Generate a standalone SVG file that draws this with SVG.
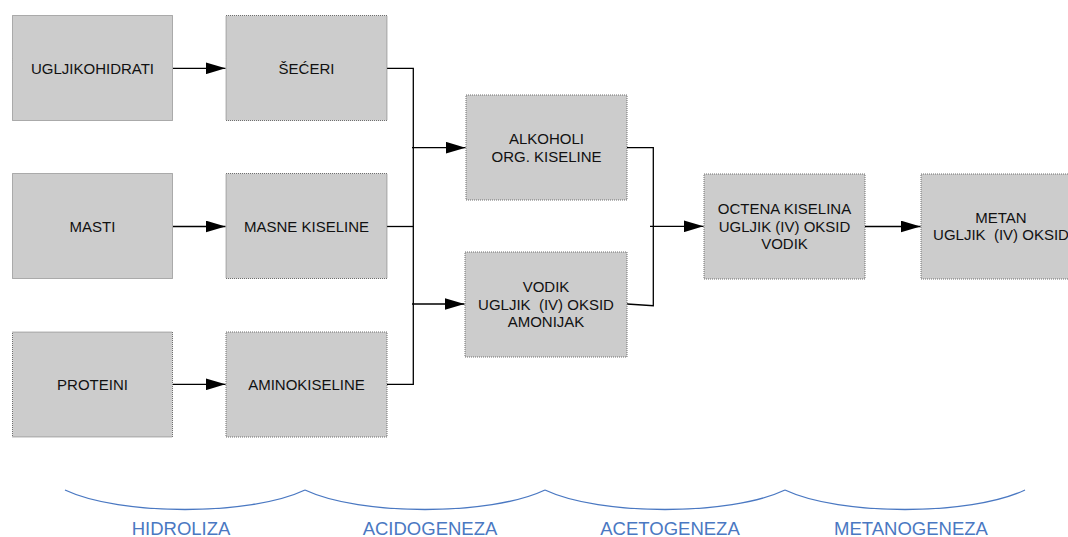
<svg xmlns="http://www.w3.org/2000/svg" width="1068" height="537" viewBox="0 0 1068 537">
<defs>
<marker id="ah" markerUnits="userSpaceOnUse" markerWidth="20" markerHeight="12" refX="20" refY="6" orient="auto">
<path d="M0,0 L20,6 L0,12 z" fill="#000"/>
</marker>
<style>
.box{fill:#cccccc;stroke:#6e6e6e;stroke-width:1;stroke-dasharray:1 1}
.t{font-family:"Liberation Sans",Arial,sans-serif;font-size:15px;fill:#111;text-anchor:middle}
.c{fill:none;stroke:#000;stroke-width:1.3}
.b{fill:none;stroke:#4a78c2;stroke-width:1.3}
.l{font-family:"Liberation Sans",Arial,sans-serif;font-size:18.5px;fill:#4a78c2;text-anchor:middle}
</style>
</defs>
<rect width="1068" height="537" fill="#fff"/>
<g id="connectors">
<path class="c" d="M173,68.3 H225.5" marker-end="url(#ah)"/>
<path class="c" d="M173,226.5 H225.5" marker-end="url(#ah)"/>
<path class="c" d="M173,384.3 H225.5" marker-end="url(#ah)"/>
<path class="c" d="M387,68.3 H413.3 V384.3 H387"/>
<path class="c" d="M387,226.5 H413.3"/>
<path class="c" d="M412,147.7 H465.5" marker-end="url(#ah)"/>
<path class="c" d="M412,304 H464.5" marker-end="url(#ah)"/>
<path class="c" d="M627,147.7 H653.3 V305.7 L627,304"/>
<path class="c" d="M650,226.3 H703.5" marker-end="url(#ah)"/>
<path class="c" d="M865,226.5 H920.5" marker-end="url(#ah)"/>
</g>
<g id="n1"><rect class="box" x="12.5" y="15.5" width="160" height="105"/><text class="t" x="92.5" y="74">UGLJIKOHIDRATI</text></g>
<g id="n2"><rect class="box" x="226" y="15.5" width="161" height="105"/><text class="t" x="306.5" y="74">ŠEĆERI</text></g>
<g id="n3"><rect class="box" x="12.5" y="173.5" width="160" height="105"/><text class="t" x="92.5" y="231.5">MASTI</text></g>
<g id="n4"><rect class="box" x="226" y="173.5" width="161" height="105"/><text class="t" x="306.5" y="231.5">MASNE KISELINE</text></g>
<g id="n5"><rect class="box" x="12.5" y="332" width="160" height="105"/><text class="t" x="92.5" y="390">PROTEINI</text></g>
<g id="n6"><rect class="box" x="226" y="332" width="161" height="105"/><text class="t" x="306.5" y="390">AMINOKISELINE</text></g>
<g id="n7"><rect class="box" x="466" y="95" width="161" height="105"/><text class="t" x="546.5" y="143.5">ALKOHOLI</text><text class="t" x="546.5" y="161.5">ORG. KISELINE</text></g>
<g id="n8"><rect class="box" x="465" y="252" width="162" height="105"/><text class="t" x="546" y="292">VODIK</text><text class="t" x="546" y="309.5" xml:space="preserve">UGLJIK  (IV) OKSID</text><text class="t" x="546" y="326.5">AMONIJAK</text></g>
<g id="n9"><rect class="box" x="704" y="174" width="161" height="105"/><text class="t" x="784.5" y="214">OCTENA KISELINA</text><text class="t" x="784.5" y="231.5">UGLJIK (IV) OKSID</text><text class="t" x="784.5" y="248.5">VODIK</text></g>
<g id="n10"><rect class="box" x="921" y="174" width="161" height="105"/><text class="t" x="1001" y="223">METAN</text><text class="t" x="1001" y="240" xml:space="preserve">UGLJIK  (IV) OKSID</text></g>
<g id="phases">
<path class="b" d="M65,490 C120,516 250,516 305,490"/>
<path class="b" d="M305,490 C360,516 490,516 545,490"/>
<path class="b" d="M545,490 C600,516 730,516 785,490"/>
<path class="b" d="M785,490 C840,516 970,516 1025,490"/>
<text class="l" x="181" y="535">HIDROLIZA</text>
<text class="l" x="430" y="535">ACIDOGENEZA</text>
<text class="l" x="670" y="535">ACETOGENEZA</text>
<text class="l" x="911" y="535">METANOGENEZA</text>
</g>
</svg>
